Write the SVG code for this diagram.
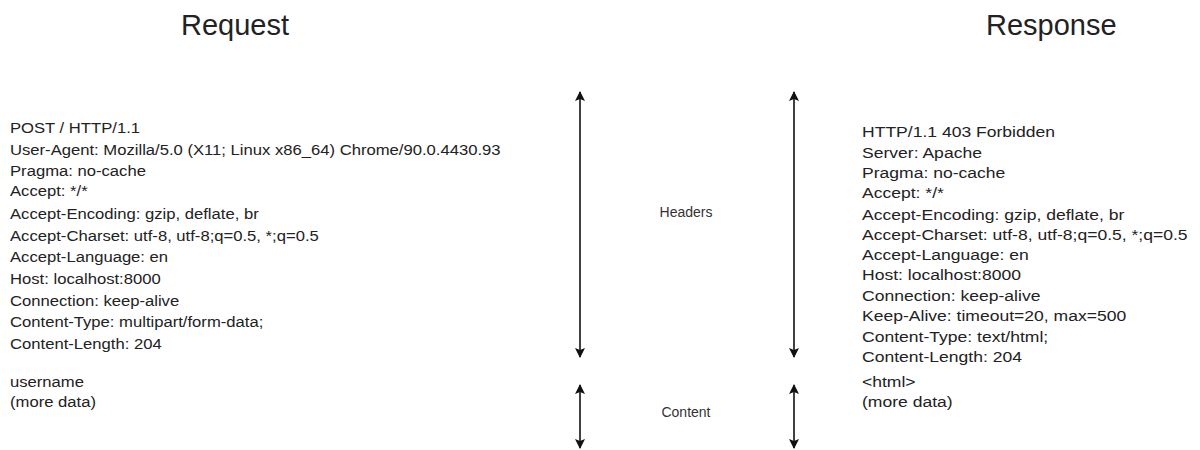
<svg xmlns="http://www.w3.org/2000/svg" width="1200" height="450" viewBox="0 0 1200 450">
  <style>
    text { font-family: "Liberation Sans", Arial, sans-serif; fill: #222; }
    .title { font-size: 29px; }
    .body { font-size: 15px; }
    .label { font-size: 14px; text-anchor: middle; fill: #333; }
    .arrow { stroke: #111; stroke-width: 1.6; fill: none; marker-start: url(#head); marker-end: url(#head); }
  </style>
  <defs>
    <marker id="head" viewBox="0 0 10 10" refX="9" refY="5" markerWidth="10" markerHeight="10" markerUnits="userSpaceOnUse" orient="auto-start-reverse">
      <path d="M0,0 L10,5 L0,10 L2,5 Z" fill="#111"/>
    </marker>
  </defs>

  <g id="request-title"><text class="title" x="181" y="35">Request</text></g>
  <g id="response-title"><text class="title" x="986" y="35">Response</text></g>

  <!-- header/body lines are drawn slightly widened horizontally -->
  <g id="request-headers" transform="translate(10,0) scale(1.11,1)">
    <text class="body" x="0" y="133">POST / HTTP/1.1</text>
    <text class="body" x="0" y="155">User-Agent: Mozilla/5.0 (X11; Linux x86_64) Chrome/90.0.4430.93</text>
    <text class="body" x="0" y="176">Pragma: no-cache</text>
    <text class="body" x="0" y="196">Accept: */*</text>
    <text class="body" x="0" y="219">Accept-Encoding: gzip, deflate, br</text>
    <text class="body" x="0" y="241">Accept-Charset: utf-8, utf-8;q=0.5, *;q=0.5</text>
    <text class="body" x="0" y="262">Accept-Language: en</text>
    <text class="body" x="0" y="284">Host: localhost:8000</text>
    <text class="body" x="0" y="306">Connection: keep-alive</text>
    <text class="body" x="0" y="327">Content-Type: multipart/form-data;</text>
    <text class="body" x="0" y="349">Content-Length: 204</text>
  </g>

  <g id="request-content" transform="translate(10,0) scale(1.11,1)">
    <text class="body" x="0" y="387">username</text>
    <text class="body" x="0" y="407">(more data)</text>
  </g>

  <g id="response-headers" transform="translate(862,0) scale(1.17,1)">
    <text class="body" x="0" y="137">HTTP/1.1 403 Forbidden</text>
    <text class="body" x="0" y="158">Server: Apache</text>
    <text class="body" x="0" y="178">Pragma: no-cache</text>
    <text class="body" x="0" y="198">Accept: */*</text>
    <text class="body" x="0" y="220">Accept-Encoding: gzip, deflate, br</text>
    <text class="body" x="0" y="240">Accept-Charset: utf-8, utf-8;q=0.5, *;q=0.5</text>
    <text class="body" x="0" y="260">Accept-Language: en</text>
    <text class="body" x="0" y="280">Host: localhost:8000</text>
    <text class="body" x="0" y="301">Connection: keep-alive</text>
    <text class="body" x="0" y="321">Keep-Alive: timeout=20, max=500</text>
    <text class="body" x="0" y="342">Content-Type: text/html;</text>
    <text class="body" x="0" y="362">Content-Length: 204</text>
  </g>

  <g id="response-content" transform="translate(862,0) scale(1.17,1)">
    <text class="body" x="0" y="387">&lt;html&gt;</text>
    <text class="body" x="0" y="407">(more data)</text>
  </g>

  <g id="section-labels">
    <text class="label" x="686" y="217">Headers</text>
    <text class="label" x="686" y="417">Content</text>
  </g>

  <g id="connectors">
    <line class="arrow" x1="580" y1="92" x2="580" y2="357"/>
    <line class="arrow" x1="794" y1="92" x2="794" y2="357"/>
    <line class="arrow" x1="580" y1="385" x2="580" y2="448"/>
    <line class="arrow" x1="794" y1="385" x2="794" y2="448"/>
  </g>
</svg>
